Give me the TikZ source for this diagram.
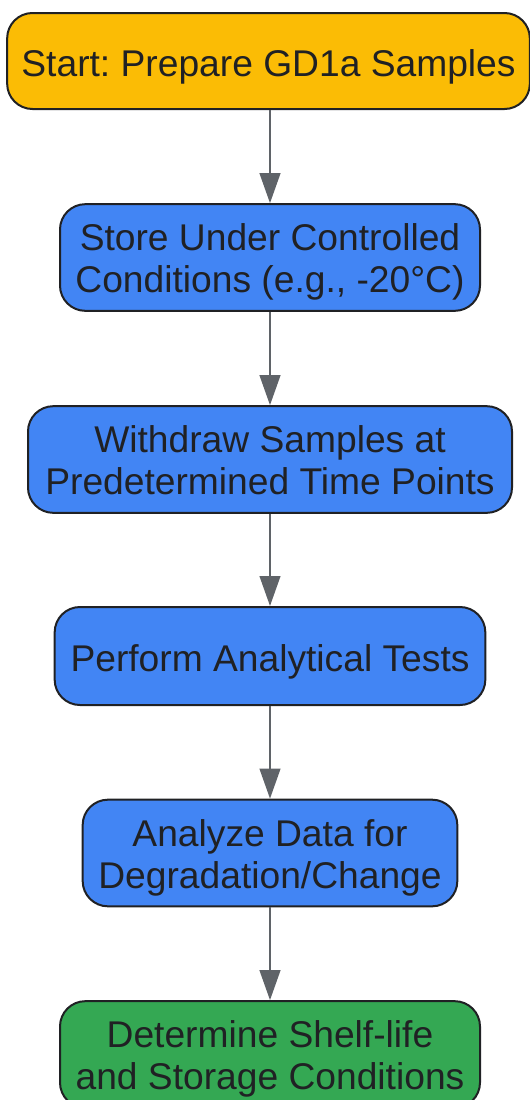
\documentclass[tikz,border=0pt]{standalone}
\usepackage{fontspec}
\setmainfont{Liberation Sans}
\usetikzlibrary{arrows.meta}
\frenchspacing

\definecolor{startyellow}{HTML}{FBBC05}
\definecolor{stepblue}{HTML}{4285F4}
\definecolor{endgreen}{HTML}{34A853}
\definecolor{textdark}{HTML}{202124}
\definecolor{arrowgrey}{HTML}{5F6368}

\tikzset{every picture/.style={line width=0.55pt}}
\tikzset{
  flowbox/.style={draw=textdark, line width=1.5pt, rounded corners=19pt, text=textdark,
    align=center, inner sep=0pt, font=\fontsize{27.9}{31.5}\selectfont},
  oneline/.style={text height=25pt, text depth=2pt},
  twoline/.style={text height=55pt, text depth=2pt},
  flowarrow/.style={draw=arrowgrey, line width=1.6pt, -{Triangle[length=22.5pt, width=15.5pt]}}
}

\begin{document}
\begin{tikzpicture}[x=0.75pt,y=0.75pt,yscale=-1,xscale=1]
            \useasboundingbox (0,0) rectangle (530,1100);

            %Rounded Rect
            \node [flowbox, oneline, fill=startyellow, minimum width=392pt, minimum height=72pt] (prepare) at (268.5,61) {Start: Prepare GD1a Samples};
            %Rounded Rect
            \node [flowbox, twoline, fill=stepblue, minimum width=315pt, minimum height=80pt] (store) at (270,257.5) {Store Under Controlled\\Conditions (e.g., -20°C)};
            %Rounded Rect
            \node [flowbox, twoline, fill=stepblue, minimum width=363pt, minimum height=80pt] (withdraw) at (270,459.5) {Withdraw Samples at\\Predetermined Time Points};
            %Rounded Rect
            \node [flowbox, oneline, fill=stepblue, minimum width=323pt, minimum height=73.5pt] (tests) at (270,656) {Perform Analytical Tests};
            %Rounded Rect
            \node [flowbox, twoline, fill=stepblue, minimum width=281pt, minimum height=80pt] (analyze) at (270,853) {Analyze Data for\\Degradation/Change};
            %Rounded Rect
            \node [flowbox, twoline, fill=endgreen, minimum width=315pt, minimum height=80pt] (shelflife) at (270,1054.5) {Determine Shelf-life\\and Storage Conditions};

            %Straight Lines
            \draw [flowarrow] (prepare.south -| store.north) -- (store.north);
            \draw [flowarrow] (store) -- (withdraw);
            \draw [flowarrow] (withdraw) -- (tests);
            \draw [flowarrow] (tests) -- (analyze);
            \draw [flowarrow] (analyze) -- (shelflife);
\end{tikzpicture}
\end{document}
